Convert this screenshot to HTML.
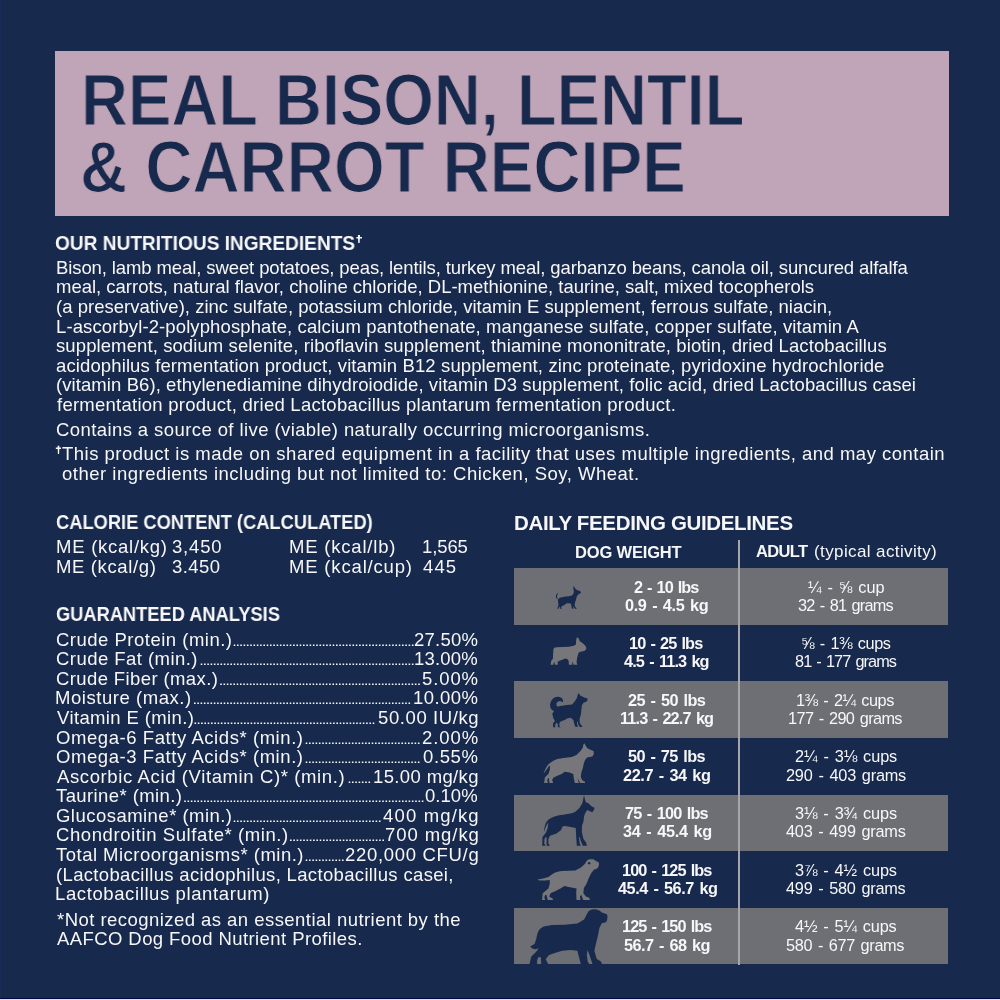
<!DOCTYPE html>
<html><head><meta charset="utf-8"><style>
html,body{margin:0;padding:0;}
body{width:1000px;height:1000px;background:#17294c;position:relative;overflow:hidden;font-family:"Liberation Sans",sans-serif;}
.t{position:absolute;white-space:nowrap;transform-origin:0 0;will-change:transform;}
.box{position:absolute;left:55px;top:51px;width:894px;height:164.5px;background:#c0a4b7;}
.row{position:absolute;left:514px;width:434px;height:56.5px;background:#6e6f74;}
.div{position:absolute;left:738px;top:539.5px;width:2px;height:425px;background:#a5a5aa;}
.dots{position:absolute;height:1.5px;background-image:linear-gradient(to right,#f7f7f9 1.5px,transparent 1.5px);background-size:3.3px 1.5px;}
svg{position:absolute;}
.bot1{position:absolute;left:0;top:998px;width:1000px;height:1px;background:#020a3c;}
.bot2{position:absolute;left:0;top:999px;width:1000px;height:1px;background:#dfe0e4;}
</style></head><body>
<div class="box"></div>
<div class="row" style="top:568.00px"></div><div class="row" style="top:681.33px"></div><div class="row" style="top:794.66px"></div><div class="row" style="top:907.99px"></div>
<div class="div"></div>
<svg style="left:552px;top:583px" width="30" height="30" viewBox="0 0 1000 1000"><path fill="#17294c" d="M195 335 C140 370 120 430 135 485 C150 520 175 540 205 550 L240 500 C300 470 420 450 560 440 L660 420 L700 380 L730 300 L715 200 L708 100 L760 160 L800 220 L850 240 L900 258 C940 270 965 290 965 315 C960 340 930 355 900 362 L860 400 L820 470 L800 560 L770 640 L752 720 L770 790 L810 830 L830 858 L770 862 L738 820 L720 765 L712 800 L722 840 L705 862 L660 852 L648 780 L638 700 L600 682 C560 672 500 672 460 690 L420 730 L360 760 L312 782 L302 830 L330 862 L270 862 L258 800 L240 792 L225 830 L222 862 L175 862 L190 810 L215 760 L210 680 L200 600 L198 540 C178 515 165 480 168 430 C170 400 180 380 205 362 Z"/></svg>
<svg style="left:547px;top:634px" width="42" height="34" viewBox="0 0 1000 810"><path fill="#76767b" d="M150 380 C150 345 180 318 225 315 L520 305 L640 280 L690 250 L692 180 L702 100 C708 78 735 72 752 100 L785 180 L830 200 L870 240 L900 268 C925 290 938 320 935 350 C930 380 905 398 862 410 L790 420 L750 450 L730 520 L712 600 L705 680 L725 735 L630 735 L615 655 L602 700 L600 735 L520 735 L515 640 L490 600 L440 582 L380 610 L300 640 L252 662 L258 735 L190 735 L175 672 L160 682 L152 735 L85 735 L100 640 L140 590 L145 500 Z"/></svg>
<svg style="left:547px;top:690px" width="44" height="40" viewBox="0 0 1000 909"><path fill="#17294c" d="M70 350 C70 280 110 200 180 165 C230 145 300 150 340 190 C362 215 368 250 365 280 L330 262 C300 250 250 250 225 285 C205 315 210 350 240 380 L300 362 L450 342 L570 330 L620 270 L680 180 L700 100 L720 70 L750 120 L800 150 L860 175 L912 190 C925 205 925 230 915 245 L880 270 L830 292 L792 350 L782 450 L770 560 L742 650 L742 750 L780 800 L812 832 L750 848 L710 782 L690 700 L680 760 L692 802 L712 832 L650 842 L620 772 L600 682 L540 632 L470 642 L400 682 L300 722 L280 762 L285 830 L312 847 L250 847 L240 762 L220 742 L192 772 L182 830 L202 847 L140 847 L135 762 L180 702 L140 632 L120 540 L160 482 L120 452 C90 430 72 395 70 350 Z"/></svg>
<svg style="left:542px;top:741px" width="53" height="44" viewBox="0 0 1000 830"><path fill="#76767b" d="M28 612 C60 540 100 440 160 410 L200 380 C250 345 330 328 400 320 L560 300 L650 262 L730 182 L770 122 L782 62 L800 40 L830 100 L852 130 L900 160 L952 180 L975 192 L977 250 L950 290 L900 302 L850 312 L810 362 L790 422 L770 512 L742 592 L732 680 L760 740 L810 770 L812 792 L720 792 L680 722 L670 682 L680 752 L700 792 L620 792 L600 702 L590 622 L520 592 L430 582 L370 622 L280 662 L212 692 L192 742 L212 792 L140 792 L130 702 L110 702 L100 752 L112 792 L40 792 L55 682 L120 622 L148 542 L152 460 C115 480 80 560 28 612 Z"/></svg>
<svg style="left:540px;top:795px" width="55" height="53" viewBox="0 0 1000 964"><path fill="#17294c" d="M68 682 C80 600 90 500 150 450 L200 420 C270 385 350 365 420 360 L580 330 L650 302 L720 232 L770 152 L782 100 L800 0 L820 90 L832 130 L880 150 L920 190 L960 218 L992 230 L982 270 L952 312 L900 292 L860 272 L820 332 L800 402 L790 482 L762 562 L762 680 L790 800 L840 870 L852 922 L780 922 L740 832 L722 752 L712 792 L722 882 L742 922 L670 922 L660 802 L650 602 L560 582 L450 562 L410 572 L380 642 L300 702 L182 742 L152 802 L152 882 L182 922 L120 922 L120 772 L100 762 L82 802 L77 882 L100 922 L40 922 L45 762 L110 682 L140 602 L152 500 C115 540 95 610 68 682 Z"/></svg>
<svg style="left:535px;top:857px" width="67" height="45" viewBox="0 0 1000 672"><path fill="#76767b" d="M38 335 L120 320 L200 300 L240 270 C280 235 340 215 400 210 L600 200 L680 160 L740 110 L780 50 C790 35 820 30 870 35 L910 60 L950 80 C960 100 958 140 930 170 L880 190 L840 240 L800 320 L770 400 L730 462 L722 540 L760 590 L810 610 L820 642 L720 642 L690 562 L670 592 L680 642 L620 642 L615 532 L620 472 L520 452 L440 432 L380 472 L300 512 L232 542 L212 590 L262 620 L272 642 L190 642 L170 562 L150 572 L140 602 L150 642 L105 642 L115 542 L200 472 L220 400 L220 342 L150 350 C100 356 60 352 38 335 Z"/><circle cx="808" cy="92" r="18" fill="#17294c"/></svg>
<svg style="left:527px;top:907px" width="84" height="58" viewBox="0 0 1000 690"><path fill="#17294c" d="M38 470 L90 440 L110 380 L122 320 C135 280 160 245 200 232 L300 215 L450 210 L600 195 L680 150 L720 70 C735 45 760 30 800 28 C840 28 870 45 885 62 L950 85 C962 100 962 150 940 180 L890 192 L862 250 L842 350 L822 430 L802 520 L830 620 L880 650 L892 678 L780 678 L740 562 L722 512 L712 562 L722 650 L742 678 L640 678 L610 562 L600 522 L520 512 L420 522 L350 542 L262 572 L222 622 L252 678 L170 678 L165 602 L140 592 L120 632 L120 678 L30 678 L50 592 L110 532 L140 492 L100 502 C75 500 50 490 38 470 Z"/></svg>

<div class="t" style="left:81.14px;top:60px;font-size:72px;line-height:80px;font-weight:700;color:#17294c;transform:scaleX(0.9030);-webkit-text-stroke:1.2px #c0a4b7;">REAL BISON, LENTIL</div>
<div class="t" style="left:79.76px;top:127px;font-size:72px;line-height:80px;font-weight:700;color:#17294c;transform:scaleX(0.9068);-webkit-text-stroke:1.2px #c0a4b7;">&amp; CARROT RECIPE</div>
<div class="t" style="left:55.40px;top:232px;font-size:20px;line-height:22px;font-weight:700;color:#f7f7f9;transform:scaleX(0.9544);">OUR NUTRITIOUS INGREDIENTS</div>
<div class="t" style="left:55.55px;top:257px;font-size:18.5px;line-height:21px;font-weight:400;color:#f7f7f9;letter-spacing:-0.1044px">Bison, lamb meal, sweet potatoes, peas, lentils, turkey meal, garbanzo beans, canola oil, suncured alfalfa</div>
<div class="t" style="left:56.14px;top:276px;font-size:18.5px;line-height:21px;font-weight:400;color:#f7f7f9;letter-spacing:-0.0088px">meal, carrots, natural flavor, choline chloride, DL-methionine, taurine, salt, mixed tocopherols</div>
<div class="t" style="left:55.63px;top:296px;font-size:18.5px;line-height:21px;font-weight:400;color:#f7f7f9;letter-spacing:0.0194px">(a preservative), zinc sulfate, potassium chloride, vitamin E supplement, ferrous sulfate, niacin,</div>
<div class="t" style="left:55.55px;top:316px;font-size:18.5px;line-height:21px;font-weight:400;color:#f7f7f9;letter-spacing:0.1070px">L-ascorbyl-2-polyphosphate, calcium pantothenate, manganese sulfate, copper sulfate, vitamin A</div>
<div class="t" style="left:55.91px;top:335px;font-size:18.5px;line-height:21px;font-weight:400;color:#f7f7f9;letter-spacing:0.1005px">supplement, sodium selenite, riboflavin supplement, thiamine mononitrate, biotin, dried Lactobacillus</div>
<div class="t" style="left:55.62px;top:355px;font-size:18.5px;line-height:21px;font-weight:400;color:#f7f7f9;letter-spacing:0.1206px">acidophilus fermentation product, vitamin B12 supplement, zinc proteinate, pyridoxine hydrochloride</div>
<div class="t" style="left:55.63px;top:374px;font-size:18.5px;line-height:21px;font-weight:400;color:#f7f7f9;letter-spacing:0.0822px">(vitamin B6), ethylenediamine dihydroiodide, vitamin D3 supplement, folic acid, dried Lactobacillus casei</div>
<div class="t" style="left:56.50px;top:394px;font-size:18.5px;line-height:21px;font-weight:400;color:#f7f7f9;letter-spacing:0.2544px">fermentation product, dried Lactobacillus plantarum fermentation product.</div>
<div class="t" style="left:55.63px;top:419px;font-size:18.5px;line-height:21px;font-weight:400;color:#f7f7f9;letter-spacing:0.4106px">Contains a source of live (viable) naturally occurring microorganisms.</div>
<div class="t" style="left:61.91px;top:443px;font-size:18.5px;line-height:21px;font-weight:400;color:#f7f7f9;letter-spacing:0.4918px">This product is made on shared equipment in a facility that uses multiple ingredients, and may contain</div>
<div class="t" style="left:62.42px;top:463px;font-size:18.5px;line-height:21px;font-weight:400;color:#f7f7f9;letter-spacing:0.4986px">other ingredients including but not limited to: Chicken, Soy, Wheat.</div>
<div class="t" style="left:55.93px;top:511px;font-size:20px;line-height:22px;font-weight:700;color:#f7f7f9;transform:scaleX(0.9147);">CALORIE CONTENT (CALCULATED)</div>
<div class="t" style="left:55.55px;top:536px;font-size:18.5px;line-height:21px;font-weight:400;color:#f7f7f9;letter-spacing:0.7467px">ME (kcal/kg)</div>
<div class="t" style="left:172.42px;top:536px;font-size:18.5px;line-height:21px;font-weight:400;color:#f7f7f9;letter-spacing:0.8359px">3,450</div>
<div class="t" style="left:55.55px;top:556px;font-size:18.5px;line-height:21px;font-weight:400;color:#f7f7f9;letter-spacing:0.6264px">ME (kcal/g)</div>
<div class="t" style="left:172.42px;top:556px;font-size:18.5px;line-height:21px;font-weight:400;color:#f7f7f9;letter-spacing:0.4359px">3.450</div>
<div class="t" style="left:288.95px;top:536px;font-size:18.5px;line-height:21px;font-weight:400;color:#f7f7f9;letter-spacing:0.7958px">ME (kcal/lb)</div>
<div class="t" style="left:421.84px;top:536px;font-size:18.5px;line-height:21px;font-weight:400;color:#f7f7f9;letter-spacing:-0.0973px">1,565</div>
<div class="t" style="left:288.95px;top:556px;font-size:18.5px;line-height:21px;font-weight:400;color:#f7f7f9;letter-spacing:0.8271px">ME (kcal/cup)</div>
<div class="t" style="left:422.71px;top:556px;font-size:18.5px;line-height:21px;font-weight:400;color:#f7f7f9;letter-spacing:1.0862px">445</div>
<div class="t" style="left:55.93px;top:603px;font-size:20px;line-height:22px;font-weight:700;color:#f7f7f9;transform:scaleX(0.9130);">GUARANTEED ANALYSIS</div>
<div class="t" style="left:55.63px;top:629px;font-size:18.5px;line-height:21px;font-weight:400;color:#f7f7f9;letter-spacing:0.4984px">Crude Protein (min.)</div>
<div class="t" style="left:414.03px;top:629px;font-size:18.5px;line-height:21px;font-weight:400;color:#f7f7f9;letter-spacing:0.2547px">27.50%</div>
<div class="t" style="left:55.63px;top:648px;font-size:18.5px;line-height:21px;font-weight:400;color:#f7f7f9;letter-spacing:0.4572px">Crude Fat (min.)</div>
<div class="t" style="left:414.44px;top:648px;font-size:18.5px;line-height:21px;font-weight:400;color:#f7f7f9;letter-spacing:0.1725px">13.00%</div>
<div class="t" style="left:55.63px;top:668px;font-size:18.5px;line-height:21px;font-weight:400;color:#f7f7f9;letter-spacing:0.3881px">Crude Fiber (max.)</div>
<div class="t" style="left:422.02px;top:668px;font-size:18.5px;line-height:21px;font-weight:400;color:#f7f7f9;letter-spacing:0.8933px">5.00%</div>
<div class="t" style="left:55.05px;top:687px;font-size:18.5px;line-height:21px;font-weight:400;color:#f7f7f9;letter-spacing:0.5439px">Moisture (max.)</div>
<div class="t" style="left:413.04px;top:687px;font-size:18.5px;line-height:21px;font-weight:400;color:#f7f7f9;letter-spacing:0.4525px">10.00%</div>
<div class="t" style="left:56.50px;top:707px;font-size:18.5px;line-height:21px;font-weight:400;color:#f7f7f9;letter-spacing:0.3809px">Vitamin E (min.)</div>
<div class="t" style="left:377.92px;top:707px;font-size:18.5px;line-height:21px;font-weight:400;color:#f7f7f9;letter-spacing:0.6003px">50.00 IU/kg</div>
<div class="t" style="left:55.63px;top:727px;font-size:18.5px;line-height:21px;font-weight:400;color:#f7f7f9;letter-spacing:0.5639px">Omega-6 Fatty Acids* (min.)</div>
<div class="t" style="left:421.73px;top:727px;font-size:18.5px;line-height:21px;font-weight:400;color:#f7f7f9;letter-spacing:0.9656px">2.00%</div>
<div class="t" style="left:55.63px;top:746px;font-size:18.5px;line-height:21px;font-weight:400;color:#f7f7f9;letter-spacing:0.5639px">Omega-3 Fatty Acids* (min.)</div>
<div class="t" style="left:423.12px;top:746px;font-size:18.5px;line-height:21px;font-weight:400;color:#f7f7f9;letter-spacing:0.6183px">0.55%</div>
<div class="t" style="left:56.50px;top:766px;font-size:18.5px;line-height:21px;font-weight:400;color:#f7f7f9;letter-spacing:0.6146px">Ascorbic Acid (Vitamin C)* (min.)</div>
<div class="t" style="left:373.04px;top:766px;font-size:18.5px;line-height:21px;font-weight:400;color:#f7f7f9;letter-spacing:0.3682px">15.00 mg/kg</div>
<div class="t" style="left:56.21px;top:785px;font-size:18.5px;line-height:21px;font-weight:400;color:#f7f7f9;letter-spacing:0.4043px">Taurine* (min.)</div>
<div class="t" style="left:425.42px;top:785px;font-size:18.5px;line-height:21px;font-weight:400;color:#f7f7f9;letter-spacing:0.0433px">0.10%</div>
<div class="t" style="left:55.63px;top:805px;font-size:18.5px;line-height:21px;font-weight:400;color:#f7f7f9;letter-spacing:0.4694px">Glucosamine* (min.)</div>
<div class="t" style="left:382.91px;top:805px;font-size:18.5px;line-height:21px;font-weight:400;color:#f7f7f9;letter-spacing:1.1554px">400 mg/kg</div>
<div class="t" style="left:55.63px;top:824px;font-size:18.5px;line-height:21px;font-weight:400;color:#f7f7f9;letter-spacing:0.5871px">Chondroitin Sulfate* (min.)</div>
<div class="t" style="left:384.63px;top:824px;font-size:18.5px;line-height:21px;font-weight:400;color:#f7f7f9;letter-spacing:0.9402px">700 mg/kg</div>
<div class="t" style="left:56.21px;top:844px;font-size:18.5px;line-height:21px;font-weight:400;color:#f7f7f9;letter-spacing:0.4838px">Total Microorganisms* (min.)</div>
<div class="t" style="left:344.83px;top:844px;font-size:18.5px;line-height:21px;font-weight:400;color:#f7f7f9;letter-spacing:0.6870px">220,000 CFU/g</div>
<div class="t" style="left:55.63px;top:864px;font-size:18.5px;line-height:21px;font-weight:400;color:#f7f7f9;letter-spacing:0.3390px">(Lactobacillus acidophilus, Lactobacillus casei,</div>
<div class="t" style="left:55.05px;top:883px;font-size:18.5px;line-height:21px;font-weight:400;color:#f7f7f9;letter-spacing:0.6080px">Lactobacillus plantarum)</div>
<div class="t" style="left:56.71px;top:909px;font-size:18.5px;line-height:21px;font-weight:400;color:#f7f7f9;letter-spacing:0.4559px">*Not recognized as an essential nutrient by the</div>
<div class="t" style="left:57.00px;top:928px;font-size:18.5px;line-height:21px;font-weight:400;color:#f7f7f9;letter-spacing:0.4148px">AAFCO Dog Food Nutrient Profiles.</div>
<div class="t" style="left:514.12px;top:511px;font-size:20.5px;line-height:23px;font-weight:700;color:#f7f7f9;letter-spacing:-0.3478px">DAILY FEEDING GUIDELINES</div>
<div class="t" style="left:574.97px;top:543px;font-size:16.5px;line-height:18px;font-weight:700;color:#f7f7f9;letter-spacing:-0.1672px">DOG WEIGHT</div>
<div class="t" style="left:756.34px;top:542px;font-size:16.5px;line-height:18px;font-weight:700;color:#f7f7f9;letter-spacing:-0.6246px">ADULT</div>
<div class="t" style="left:814.20px;top:542px;font-size:17px;line-height:19px;font-weight:400;color:#f7f7f9;letter-spacing:0.3877px">(typical activity)</div>
<div class="t" style="left:634.09px;top:578px;font-size:16.3px;line-height:18px;font-weight:700;color:#f7f7f9;letter-spacing:-0.9875px;word-spacing:1.5px">2 - 10 lbs</div>
<div class="t" style="left:625.09px;top:596px;font-size:16.3px;line-height:18px;font-weight:700;color:#f7f7f9;letter-spacing:-0.3727px;word-spacing:1.5px">0.9 - 4.5 kg</div>
<div class="t" style="left:807.95px;top:578px;font-size:16.3px;line-height:18px;font-weight:400;color:#f7f7f9;letter-spacing:-0.0581px;word-spacing:1.5px">¼ - ⅝ cup</div>
<div class="t" style="left:798.09px;top:596px;font-size:16.3px;line-height:18px;font-weight:400;color:#f7f7f9;letter-spacing:-0.7699px;word-spacing:1.5px">32 - 81 grams</div>
<div class="t" style="left:629.38px;top:634px;font-size:16.3px;line-height:18px;font-weight:700;color:#f7f7f9;letter-spacing:-0.9043px;word-spacing:1.5px">10 - 25 lbs</div>
<div class="t" style="left:624.40px;top:652px;font-size:16.3px;line-height:18px;font-weight:700;color:#f7f7f9;letter-spacing:-0.8645px;word-spacing:1.5px">4.5 - 11.3 kg</div>
<div class="t" style="left:800.98px;top:634px;font-size:16.3px;line-height:18px;font-weight:400;color:#f7f7f9;letter-spacing:-0.4166px;word-spacing:1.5px">⅝ - 1⅜ cups</div>
<div class="t" style="left:794.89px;top:652px;font-size:16.3px;line-height:18px;font-weight:400;color:#f7f7f9;letter-spacing:-0.9234px;word-spacing:1.5px">81 - 177 grams</div>
<div class="t" style="left:628.09px;top:691px;font-size:16.3px;line-height:18px;font-weight:700;color:#f7f7f9;letter-spacing:-0.5353px;word-spacing:1.5px">25 - 50 lbs</div>
<div class="t" style="left:620.38px;top:709px;font-size:16.3px;line-height:18px;font-weight:700;color:#f7f7f9;letter-spacing:-0.8400px;word-spacing:1.5px">11.3 - 22.7 kg</div>
<div class="t" style="left:796.48px;top:691px;font-size:16.3px;line-height:18px;font-weight:400;color:#f7f7f9;letter-spacing:-0.4392px;word-spacing:1.5px">1⅜ - 2¼ cups</div>
<div class="t" style="left:788.38px;top:709px;font-size:16.3px;line-height:18px;font-weight:400;color:#f7f7f9;letter-spacing:-0.6114px;word-spacing:1.5px">177 - 290 grams</div>
<div class="t" style="left:628.35px;top:747px;font-size:16.3px;line-height:18px;font-weight:700;color:#f7f7f9;letter-spacing:-0.5608px;word-spacing:1.5px">50 - 75 lbs</div>
<div class="t" style="left:622.99px;top:766px;font-size:16.3px;line-height:18px;font-weight:700;color:#f7f7f9;letter-spacing:-0.3942px;word-spacing:1.5px">22.7 - 34 kg</div>
<div class="t" style="left:794.64px;top:747px;font-size:16.3px;line-height:18px;font-weight:400;color:#f7f7f9;letter-spacing:-0.0805px;word-spacing:1.5px">2¼ - 3⅛ cups</div>
<div class="t" style="left:785.64px;top:766px;font-size:16.3px;line-height:18px;font-weight:400;color:#f7f7f9;letter-spacing:-0.2010px;word-spacing:1.5px">290 - 403 grams</div>
<div class="t" style="left:625.09px;top:804px;font-size:16.3px;line-height:18px;font-weight:700;color:#f7f7f9;letter-spacing:-0.7834px;word-spacing:1.5px">75 - 100 lbs</div>
<div class="t" style="left:623.25px;top:822px;font-size:16.3px;line-height:18px;font-weight:700;color:#f7f7f9;letter-spacing:-0.2809px;word-spacing:1.5px">34 - 45.4 kg</div>
<div class="t" style="left:795.09px;top:804px;font-size:16.3px;line-height:18px;font-weight:400;color:#f7f7f9;letter-spacing:-0.0946px;word-spacing:1.5px">3⅛ - 3¾ cups</div>
<div class="t" style="left:786.35px;top:822px;font-size:16.3px;line-height:18px;font-weight:400;color:#f7f7f9;letter-spacing:-0.2303px;word-spacing:1.5px">403 - 499 grams</div>
<div class="t" style="left:621.58px;top:861px;font-size:16.3px;line-height:18px;font-weight:700;color:#f7f7f9;letter-spacing:-0.9144px;word-spacing:1.5px">100 - 125 lbs</div>
<div class="t" style="left:617.50px;top:879px;font-size:16.3px;line-height:18px;font-weight:700;color:#f7f7f9;letter-spacing:-0.4568px;word-spacing:1.5px">45.4 - 56.7 kg</div>
<div class="t" style="left:794.89px;top:861px;font-size:16.3px;line-height:18px;font-weight:400;color:#f7f7f9;letter-spacing:-0.1037px;word-spacing:1.5px">3⅞ - 4½ cups</div>
<div class="t" style="left:786.15px;top:879px;font-size:16.3px;line-height:18px;font-weight:400;color:#f7f7f9;letter-spacing:-0.2374px;word-spacing:1.5px">499 - 580 grams</div>
<div class="t" style="left:621.58px;top:917px;font-size:16.3px;line-height:18px;font-weight:700;color:#f7f7f9;letter-spacing:-0.9144px;word-spacing:1.5px">125 - 150 lbs</div>
<div class="t" style="left:624.15px;top:936px;font-size:16.3px;line-height:18px;font-weight:700;color:#f7f7f9;letter-spacing:-0.5355px;word-spacing:1.5px">56.7 - 68 kg</div>
<div class="t" style="left:795.15px;top:917px;font-size:16.3px;line-height:18px;font-weight:400;color:#f7f7f9;letter-spacing:-0.1268px;word-spacing:1.5px">4½ - 5¼ cups</div>
<div class="t" style="left:786.49px;top:936px;font-size:16.3px;line-height:18px;font-weight:400;color:#f7f7f9;letter-spacing:-0.3264px;word-spacing:1.5px">580 - 677 grams</div>
<svg style="left:0;top:0" width="1000" height="1000" viewBox="0 0 1000 1000"><path fill="#f7f7f9" d="M233.70 644.4h1.6v1.6h-1.6zM237.00 644.4h1.6v1.6h-1.6zM240.30 644.4h1.6v1.6h-1.6zM243.60 644.4h1.6v1.6h-1.6zM246.90 644.4h1.6v1.6h-1.6zM250.20 644.4h1.6v1.6h-1.6zM253.50 644.4h1.6v1.6h-1.6zM256.80 644.4h1.6v1.6h-1.6zM260.10 644.4h1.6v1.6h-1.6zM263.40 644.4h1.6v1.6h-1.6zM266.70 644.4h1.6v1.6h-1.6zM270.00 644.4h1.6v1.6h-1.6zM273.30 644.4h1.6v1.6h-1.6zM276.60 644.4h1.6v1.6h-1.6zM279.90 644.4h1.6v1.6h-1.6zM283.20 644.4h1.6v1.6h-1.6zM286.50 644.4h1.6v1.6h-1.6zM289.80 644.4h1.6v1.6h-1.6zM293.10 644.4h1.6v1.6h-1.6zM296.40 644.4h1.6v1.6h-1.6zM299.70 644.4h1.6v1.6h-1.6zM303.00 644.4h1.6v1.6h-1.6zM306.30 644.4h1.6v1.6h-1.6zM309.60 644.4h1.6v1.6h-1.6zM312.90 644.4h1.6v1.6h-1.6zM316.20 644.4h1.6v1.6h-1.6zM319.50 644.4h1.6v1.6h-1.6zM322.80 644.4h1.6v1.6h-1.6zM326.10 644.4h1.6v1.6h-1.6zM329.40 644.4h1.6v1.6h-1.6zM332.70 644.4h1.6v1.6h-1.6zM336.00 644.4h1.6v1.6h-1.6zM339.30 644.4h1.6v1.6h-1.6zM342.60 644.4h1.6v1.6h-1.6zM345.90 644.4h1.6v1.6h-1.6zM349.20 644.4h1.6v1.6h-1.6zM352.50 644.4h1.6v1.6h-1.6zM355.80 644.4h1.6v1.6h-1.6zM359.10 644.4h1.6v1.6h-1.6zM362.40 644.4h1.6v1.6h-1.6zM365.70 644.4h1.6v1.6h-1.6zM369.00 644.4h1.6v1.6h-1.6zM372.30 644.4h1.6v1.6h-1.6zM375.60 644.4h1.6v1.6h-1.6zM378.90 644.4h1.6v1.6h-1.6zM382.20 644.4h1.6v1.6h-1.6zM385.50 644.4h1.6v1.6h-1.6zM388.80 644.4h1.6v1.6h-1.6zM392.10 644.4h1.6v1.6h-1.6zM395.40 644.4h1.6v1.6h-1.6zM398.70 644.4h1.6v1.6h-1.6zM402.00 644.4h1.6v1.6h-1.6zM405.30 644.4h1.6v1.6h-1.6zM408.60 644.4h1.6v1.6h-1.6zM411.90 644.4h1.6v1.6h-1.6zM200.70 663.4h1.6v1.6h-1.6zM204.00 663.4h1.6v1.6h-1.6zM207.30 663.4h1.6v1.6h-1.6zM210.60 663.4h1.6v1.6h-1.6zM213.90 663.4h1.6v1.6h-1.6zM217.20 663.4h1.6v1.6h-1.6zM220.50 663.4h1.6v1.6h-1.6zM223.80 663.4h1.6v1.6h-1.6zM227.10 663.4h1.6v1.6h-1.6zM230.40 663.4h1.6v1.6h-1.6zM233.70 663.4h1.6v1.6h-1.6zM237.00 663.4h1.6v1.6h-1.6zM240.30 663.4h1.6v1.6h-1.6zM243.60 663.4h1.6v1.6h-1.6zM246.90 663.4h1.6v1.6h-1.6zM250.20 663.4h1.6v1.6h-1.6zM253.50 663.4h1.6v1.6h-1.6zM256.80 663.4h1.6v1.6h-1.6zM260.10 663.4h1.6v1.6h-1.6zM263.40 663.4h1.6v1.6h-1.6zM266.70 663.4h1.6v1.6h-1.6zM270.00 663.4h1.6v1.6h-1.6zM273.30 663.4h1.6v1.6h-1.6zM276.60 663.4h1.6v1.6h-1.6zM279.90 663.4h1.6v1.6h-1.6zM283.20 663.4h1.6v1.6h-1.6zM286.50 663.4h1.6v1.6h-1.6zM289.80 663.4h1.6v1.6h-1.6zM293.10 663.4h1.6v1.6h-1.6zM296.40 663.4h1.6v1.6h-1.6zM299.70 663.4h1.6v1.6h-1.6zM303.00 663.4h1.6v1.6h-1.6zM306.30 663.4h1.6v1.6h-1.6zM309.60 663.4h1.6v1.6h-1.6zM312.90 663.4h1.6v1.6h-1.6zM316.20 663.4h1.6v1.6h-1.6zM319.50 663.4h1.6v1.6h-1.6zM322.80 663.4h1.6v1.6h-1.6zM326.10 663.4h1.6v1.6h-1.6zM329.40 663.4h1.6v1.6h-1.6zM332.70 663.4h1.6v1.6h-1.6zM336.00 663.4h1.6v1.6h-1.6zM339.30 663.4h1.6v1.6h-1.6zM342.60 663.4h1.6v1.6h-1.6zM345.90 663.4h1.6v1.6h-1.6zM349.20 663.4h1.6v1.6h-1.6zM352.50 663.4h1.6v1.6h-1.6zM355.80 663.4h1.6v1.6h-1.6zM359.10 663.4h1.6v1.6h-1.6zM362.40 663.4h1.6v1.6h-1.6zM365.70 663.4h1.6v1.6h-1.6zM369.00 663.4h1.6v1.6h-1.6zM372.30 663.4h1.6v1.6h-1.6zM375.60 663.4h1.6v1.6h-1.6zM378.90 663.4h1.6v1.6h-1.6zM382.20 663.4h1.6v1.6h-1.6zM385.50 663.4h1.6v1.6h-1.6zM388.80 663.4h1.6v1.6h-1.6zM392.10 663.4h1.6v1.6h-1.6zM395.40 663.4h1.6v1.6h-1.6zM398.70 663.4h1.6v1.6h-1.6zM402.00 663.4h1.6v1.6h-1.6zM405.30 663.4h1.6v1.6h-1.6zM408.60 663.4h1.6v1.6h-1.6zM411.90 663.4h1.6v1.6h-1.6zM220.20 683.4h1.6v1.6h-1.6zM223.50 683.4h1.6v1.6h-1.6zM226.80 683.4h1.6v1.6h-1.6zM230.10 683.4h1.6v1.6h-1.6zM233.40 683.4h1.6v1.6h-1.6zM236.70 683.4h1.6v1.6h-1.6zM240.00 683.4h1.6v1.6h-1.6zM243.30 683.4h1.6v1.6h-1.6zM246.60 683.4h1.6v1.6h-1.6zM249.90 683.4h1.6v1.6h-1.6zM253.20 683.4h1.6v1.6h-1.6zM256.50 683.4h1.6v1.6h-1.6zM259.80 683.4h1.6v1.6h-1.6zM263.10 683.4h1.6v1.6h-1.6zM266.40 683.4h1.6v1.6h-1.6zM269.70 683.4h1.6v1.6h-1.6zM273.00 683.4h1.6v1.6h-1.6zM276.30 683.4h1.6v1.6h-1.6zM279.60 683.4h1.6v1.6h-1.6zM282.90 683.4h1.6v1.6h-1.6zM286.20 683.4h1.6v1.6h-1.6zM289.50 683.4h1.6v1.6h-1.6zM292.80 683.4h1.6v1.6h-1.6zM296.10 683.4h1.6v1.6h-1.6zM299.40 683.4h1.6v1.6h-1.6zM302.70 683.4h1.6v1.6h-1.6zM306.00 683.4h1.6v1.6h-1.6zM309.30 683.4h1.6v1.6h-1.6zM312.60 683.4h1.6v1.6h-1.6zM315.90 683.4h1.6v1.6h-1.6zM319.20 683.4h1.6v1.6h-1.6zM322.50 683.4h1.6v1.6h-1.6zM325.80 683.4h1.6v1.6h-1.6zM329.10 683.4h1.6v1.6h-1.6zM332.40 683.4h1.6v1.6h-1.6zM335.70 683.4h1.6v1.6h-1.6zM339.00 683.4h1.6v1.6h-1.6zM342.30 683.4h1.6v1.6h-1.6zM345.60 683.4h1.6v1.6h-1.6zM348.90 683.4h1.6v1.6h-1.6zM352.20 683.4h1.6v1.6h-1.6zM355.50 683.4h1.6v1.6h-1.6zM358.80 683.4h1.6v1.6h-1.6zM362.10 683.4h1.6v1.6h-1.6zM365.40 683.4h1.6v1.6h-1.6zM368.70 683.4h1.6v1.6h-1.6zM372.00 683.4h1.6v1.6h-1.6zM375.30 683.4h1.6v1.6h-1.6zM378.60 683.4h1.6v1.6h-1.6zM381.90 683.4h1.6v1.6h-1.6zM385.20 683.4h1.6v1.6h-1.6zM388.50 683.4h1.6v1.6h-1.6zM391.80 683.4h1.6v1.6h-1.6zM395.10 683.4h1.6v1.6h-1.6zM398.40 683.4h1.6v1.6h-1.6zM401.70 683.4h1.6v1.6h-1.6zM405.00 683.4h1.6v1.6h-1.6zM408.30 683.4h1.6v1.6h-1.6zM411.60 683.4h1.6v1.6h-1.6zM414.90 683.4h1.6v1.6h-1.6zM418.20 683.4h1.6v1.6h-1.6zM194.00 702.4h1.6v1.6h-1.6zM197.30 702.4h1.6v1.6h-1.6zM200.60 702.4h1.6v1.6h-1.6zM203.90 702.4h1.6v1.6h-1.6zM207.20 702.4h1.6v1.6h-1.6zM210.50 702.4h1.6v1.6h-1.6zM213.80 702.4h1.6v1.6h-1.6zM217.10 702.4h1.6v1.6h-1.6zM220.40 702.4h1.6v1.6h-1.6zM223.70 702.4h1.6v1.6h-1.6zM227.00 702.4h1.6v1.6h-1.6zM230.30 702.4h1.6v1.6h-1.6zM233.60 702.4h1.6v1.6h-1.6zM236.90 702.4h1.6v1.6h-1.6zM240.20 702.4h1.6v1.6h-1.6zM243.50 702.4h1.6v1.6h-1.6zM246.80 702.4h1.6v1.6h-1.6zM250.10 702.4h1.6v1.6h-1.6zM253.40 702.4h1.6v1.6h-1.6zM256.70 702.4h1.6v1.6h-1.6zM260.00 702.4h1.6v1.6h-1.6zM263.30 702.4h1.6v1.6h-1.6zM266.60 702.4h1.6v1.6h-1.6zM269.90 702.4h1.6v1.6h-1.6zM273.20 702.4h1.6v1.6h-1.6zM276.50 702.4h1.6v1.6h-1.6zM279.80 702.4h1.6v1.6h-1.6zM283.10 702.4h1.6v1.6h-1.6zM286.40 702.4h1.6v1.6h-1.6zM289.70 702.4h1.6v1.6h-1.6zM293.00 702.4h1.6v1.6h-1.6zM296.30 702.4h1.6v1.6h-1.6zM299.60 702.4h1.6v1.6h-1.6zM302.90 702.4h1.6v1.6h-1.6zM306.20 702.4h1.6v1.6h-1.6zM309.50 702.4h1.6v1.6h-1.6zM312.80 702.4h1.6v1.6h-1.6zM316.10 702.4h1.6v1.6h-1.6zM319.40 702.4h1.6v1.6h-1.6zM322.70 702.4h1.6v1.6h-1.6zM326.00 702.4h1.6v1.6h-1.6zM329.30 702.4h1.6v1.6h-1.6zM332.60 702.4h1.6v1.6h-1.6zM335.90 702.4h1.6v1.6h-1.6zM339.20 702.4h1.6v1.6h-1.6zM342.50 702.4h1.6v1.6h-1.6zM345.80 702.4h1.6v1.6h-1.6zM349.10 702.4h1.6v1.6h-1.6zM352.40 702.4h1.6v1.6h-1.6zM355.70 702.4h1.6v1.6h-1.6zM359.00 702.4h1.6v1.6h-1.6zM362.30 702.4h1.6v1.6h-1.6zM365.60 702.4h1.6v1.6h-1.6zM368.90 702.4h1.6v1.6h-1.6zM372.20 702.4h1.6v1.6h-1.6zM375.50 702.4h1.6v1.6h-1.6zM378.80 702.4h1.6v1.6h-1.6zM382.10 702.4h1.6v1.6h-1.6zM385.40 702.4h1.6v1.6h-1.6zM388.70 702.4h1.6v1.6h-1.6zM392.00 702.4h1.6v1.6h-1.6zM395.30 702.4h1.6v1.6h-1.6zM398.60 702.4h1.6v1.6h-1.6zM401.90 702.4h1.6v1.6h-1.6zM405.20 702.4h1.6v1.6h-1.6zM408.50 702.4h1.6v1.6h-1.6zM194.50 722.4h1.6v1.6h-1.6zM197.80 722.4h1.6v1.6h-1.6zM201.10 722.4h1.6v1.6h-1.6zM204.40 722.4h1.6v1.6h-1.6zM207.70 722.4h1.6v1.6h-1.6zM211.00 722.4h1.6v1.6h-1.6zM214.30 722.4h1.6v1.6h-1.6zM217.60 722.4h1.6v1.6h-1.6zM220.90 722.4h1.6v1.6h-1.6zM224.20 722.4h1.6v1.6h-1.6zM227.50 722.4h1.6v1.6h-1.6zM230.80 722.4h1.6v1.6h-1.6zM234.10 722.4h1.6v1.6h-1.6zM237.40 722.4h1.6v1.6h-1.6zM240.70 722.4h1.6v1.6h-1.6zM244.00 722.4h1.6v1.6h-1.6zM247.30 722.4h1.6v1.6h-1.6zM250.60 722.4h1.6v1.6h-1.6zM253.90 722.4h1.6v1.6h-1.6zM257.20 722.4h1.6v1.6h-1.6zM260.50 722.4h1.6v1.6h-1.6zM263.80 722.4h1.6v1.6h-1.6zM267.10 722.4h1.6v1.6h-1.6zM270.40 722.4h1.6v1.6h-1.6zM273.70 722.4h1.6v1.6h-1.6zM277.00 722.4h1.6v1.6h-1.6zM280.30 722.4h1.6v1.6h-1.6zM283.60 722.4h1.6v1.6h-1.6zM286.90 722.4h1.6v1.6h-1.6zM290.20 722.4h1.6v1.6h-1.6zM293.50 722.4h1.6v1.6h-1.6zM296.80 722.4h1.6v1.6h-1.6zM300.10 722.4h1.6v1.6h-1.6zM303.40 722.4h1.6v1.6h-1.6zM306.70 722.4h1.6v1.6h-1.6zM310.00 722.4h1.6v1.6h-1.6zM313.30 722.4h1.6v1.6h-1.6zM316.60 722.4h1.6v1.6h-1.6zM319.90 722.4h1.6v1.6h-1.6zM323.20 722.4h1.6v1.6h-1.6zM326.50 722.4h1.6v1.6h-1.6zM329.80 722.4h1.6v1.6h-1.6zM333.10 722.4h1.6v1.6h-1.6zM336.40 722.4h1.6v1.6h-1.6zM339.70 722.4h1.6v1.6h-1.6zM343.00 722.4h1.6v1.6h-1.6zM346.30 722.4h1.6v1.6h-1.6zM349.60 722.4h1.6v1.6h-1.6zM352.90 722.4h1.6v1.6h-1.6zM356.20 722.4h1.6v1.6h-1.6zM359.50 722.4h1.6v1.6h-1.6zM362.80 722.4h1.6v1.6h-1.6zM366.10 722.4h1.6v1.6h-1.6zM369.40 722.4h1.6v1.6h-1.6zM372.70 722.4h1.6v1.6h-1.6zM305.70 742.4h1.6v1.6h-1.6zM309.00 742.4h1.6v1.6h-1.6zM312.30 742.4h1.6v1.6h-1.6zM315.60 742.4h1.6v1.6h-1.6zM318.90 742.4h1.6v1.6h-1.6zM322.20 742.4h1.6v1.6h-1.6zM325.50 742.4h1.6v1.6h-1.6zM328.80 742.4h1.6v1.6h-1.6zM332.10 742.4h1.6v1.6h-1.6zM335.40 742.4h1.6v1.6h-1.6zM338.70 742.4h1.6v1.6h-1.6zM342.00 742.4h1.6v1.6h-1.6zM345.30 742.4h1.6v1.6h-1.6zM348.60 742.4h1.6v1.6h-1.6zM351.90 742.4h1.6v1.6h-1.6zM355.20 742.4h1.6v1.6h-1.6zM358.50 742.4h1.6v1.6h-1.6zM361.80 742.4h1.6v1.6h-1.6zM365.10 742.4h1.6v1.6h-1.6zM368.40 742.4h1.6v1.6h-1.6zM371.70 742.4h1.6v1.6h-1.6zM375.00 742.4h1.6v1.6h-1.6zM378.30 742.4h1.6v1.6h-1.6zM381.60 742.4h1.6v1.6h-1.6zM384.90 742.4h1.6v1.6h-1.6zM388.20 742.4h1.6v1.6h-1.6zM391.50 742.4h1.6v1.6h-1.6zM394.80 742.4h1.6v1.6h-1.6zM398.10 742.4h1.6v1.6h-1.6zM401.40 742.4h1.6v1.6h-1.6zM404.70 742.4h1.6v1.6h-1.6zM408.00 742.4h1.6v1.6h-1.6zM411.30 742.4h1.6v1.6h-1.6zM414.60 742.4h1.6v1.6h-1.6zM417.90 742.4h1.6v1.6h-1.6zM305.70 761.4h1.6v1.6h-1.6zM309.00 761.4h1.6v1.6h-1.6zM312.30 761.4h1.6v1.6h-1.6zM315.60 761.4h1.6v1.6h-1.6zM318.90 761.4h1.6v1.6h-1.6zM322.20 761.4h1.6v1.6h-1.6zM325.50 761.4h1.6v1.6h-1.6zM328.80 761.4h1.6v1.6h-1.6zM332.10 761.4h1.6v1.6h-1.6zM335.40 761.4h1.6v1.6h-1.6zM338.70 761.4h1.6v1.6h-1.6zM342.00 761.4h1.6v1.6h-1.6zM345.30 761.4h1.6v1.6h-1.6zM348.60 761.4h1.6v1.6h-1.6zM351.90 761.4h1.6v1.6h-1.6zM355.20 761.4h1.6v1.6h-1.6zM358.50 761.4h1.6v1.6h-1.6zM361.80 761.4h1.6v1.6h-1.6zM365.10 761.4h1.6v1.6h-1.6zM368.40 761.4h1.6v1.6h-1.6zM371.70 761.4h1.6v1.6h-1.6zM375.00 761.4h1.6v1.6h-1.6zM378.30 761.4h1.6v1.6h-1.6zM381.60 761.4h1.6v1.6h-1.6zM384.90 761.4h1.6v1.6h-1.6zM388.20 761.4h1.6v1.6h-1.6zM391.50 761.4h1.6v1.6h-1.6zM394.80 761.4h1.6v1.6h-1.6zM398.10 761.4h1.6v1.6h-1.6zM401.40 761.4h1.6v1.6h-1.6zM404.70 761.4h1.6v1.6h-1.6zM408.00 761.4h1.6v1.6h-1.6zM411.30 761.4h1.6v1.6h-1.6zM414.60 761.4h1.6v1.6h-1.6zM417.90 761.4h1.6v1.6h-1.6zM348.70 781.4h1.6v1.6h-1.6zM352.00 781.4h1.6v1.6h-1.6zM355.30 781.4h1.6v1.6h-1.6zM358.60 781.4h1.6v1.6h-1.6zM361.90 781.4h1.6v1.6h-1.6zM365.20 781.4h1.6v1.6h-1.6zM368.50 781.4h1.6v1.6h-1.6zM184.20 800.4h1.6v1.6h-1.6zM187.50 800.4h1.6v1.6h-1.6zM190.80 800.4h1.6v1.6h-1.6zM194.10 800.4h1.6v1.6h-1.6zM197.40 800.4h1.6v1.6h-1.6zM200.70 800.4h1.6v1.6h-1.6zM204.00 800.4h1.6v1.6h-1.6zM207.30 800.4h1.6v1.6h-1.6zM210.60 800.4h1.6v1.6h-1.6zM213.90 800.4h1.6v1.6h-1.6zM217.20 800.4h1.6v1.6h-1.6zM220.50 800.4h1.6v1.6h-1.6zM223.80 800.4h1.6v1.6h-1.6zM227.10 800.4h1.6v1.6h-1.6zM230.40 800.4h1.6v1.6h-1.6zM233.70 800.4h1.6v1.6h-1.6zM237.00 800.4h1.6v1.6h-1.6zM240.30 800.4h1.6v1.6h-1.6zM243.60 800.4h1.6v1.6h-1.6zM246.90 800.4h1.6v1.6h-1.6zM250.20 800.4h1.6v1.6h-1.6zM253.50 800.4h1.6v1.6h-1.6zM256.80 800.4h1.6v1.6h-1.6zM260.10 800.4h1.6v1.6h-1.6zM263.40 800.4h1.6v1.6h-1.6zM266.70 800.4h1.6v1.6h-1.6zM270.00 800.4h1.6v1.6h-1.6zM273.30 800.4h1.6v1.6h-1.6zM276.60 800.4h1.6v1.6h-1.6zM279.90 800.4h1.6v1.6h-1.6zM283.20 800.4h1.6v1.6h-1.6zM286.50 800.4h1.6v1.6h-1.6zM289.80 800.4h1.6v1.6h-1.6zM293.10 800.4h1.6v1.6h-1.6zM296.40 800.4h1.6v1.6h-1.6zM299.70 800.4h1.6v1.6h-1.6zM303.00 800.4h1.6v1.6h-1.6zM306.30 800.4h1.6v1.6h-1.6zM309.60 800.4h1.6v1.6h-1.6zM312.90 800.4h1.6v1.6h-1.6zM316.20 800.4h1.6v1.6h-1.6zM319.50 800.4h1.6v1.6h-1.6zM322.80 800.4h1.6v1.6h-1.6zM326.10 800.4h1.6v1.6h-1.6zM329.40 800.4h1.6v1.6h-1.6zM332.70 800.4h1.6v1.6h-1.6zM336.00 800.4h1.6v1.6h-1.6zM339.30 800.4h1.6v1.6h-1.6zM342.60 800.4h1.6v1.6h-1.6zM345.90 800.4h1.6v1.6h-1.6zM349.20 800.4h1.6v1.6h-1.6zM352.50 800.4h1.6v1.6h-1.6zM355.80 800.4h1.6v1.6h-1.6zM359.10 800.4h1.6v1.6h-1.6zM362.40 800.4h1.6v1.6h-1.6zM365.70 800.4h1.6v1.6h-1.6zM369.00 800.4h1.6v1.6h-1.6zM372.30 800.4h1.6v1.6h-1.6zM375.60 800.4h1.6v1.6h-1.6zM378.90 800.4h1.6v1.6h-1.6zM382.20 800.4h1.6v1.6h-1.6zM385.50 800.4h1.6v1.6h-1.6zM388.80 800.4h1.6v1.6h-1.6zM392.10 800.4h1.6v1.6h-1.6zM395.40 800.4h1.6v1.6h-1.6zM398.70 800.4h1.6v1.6h-1.6zM402.00 800.4h1.6v1.6h-1.6zM405.30 800.4h1.6v1.6h-1.6zM408.60 800.4h1.6v1.6h-1.6zM411.90 800.4h1.6v1.6h-1.6zM415.20 800.4h1.6v1.6h-1.6zM418.50 800.4h1.6v1.6h-1.6zM421.80 800.4h1.6v1.6h-1.6zM233.70 820.4h1.6v1.6h-1.6zM237.00 820.4h1.6v1.6h-1.6zM240.30 820.4h1.6v1.6h-1.6zM243.60 820.4h1.6v1.6h-1.6zM246.90 820.4h1.6v1.6h-1.6zM250.20 820.4h1.6v1.6h-1.6zM253.50 820.4h1.6v1.6h-1.6zM256.80 820.4h1.6v1.6h-1.6zM260.10 820.4h1.6v1.6h-1.6zM263.40 820.4h1.6v1.6h-1.6zM266.70 820.4h1.6v1.6h-1.6zM270.00 820.4h1.6v1.6h-1.6zM273.30 820.4h1.6v1.6h-1.6zM276.60 820.4h1.6v1.6h-1.6zM279.90 820.4h1.6v1.6h-1.6zM283.20 820.4h1.6v1.6h-1.6zM286.50 820.4h1.6v1.6h-1.6zM289.80 820.4h1.6v1.6h-1.6zM293.10 820.4h1.6v1.6h-1.6zM296.40 820.4h1.6v1.6h-1.6zM299.70 820.4h1.6v1.6h-1.6zM303.00 820.4h1.6v1.6h-1.6zM306.30 820.4h1.6v1.6h-1.6zM309.60 820.4h1.6v1.6h-1.6zM312.90 820.4h1.6v1.6h-1.6zM316.20 820.4h1.6v1.6h-1.6zM319.50 820.4h1.6v1.6h-1.6zM322.80 820.4h1.6v1.6h-1.6zM326.10 820.4h1.6v1.6h-1.6zM329.40 820.4h1.6v1.6h-1.6zM332.70 820.4h1.6v1.6h-1.6zM336.00 820.4h1.6v1.6h-1.6zM339.30 820.4h1.6v1.6h-1.6zM342.60 820.4h1.6v1.6h-1.6zM345.90 820.4h1.6v1.6h-1.6zM349.20 820.4h1.6v1.6h-1.6zM352.50 820.4h1.6v1.6h-1.6zM355.80 820.4h1.6v1.6h-1.6zM359.10 820.4h1.6v1.6h-1.6zM362.40 820.4h1.6v1.6h-1.6zM365.70 820.4h1.6v1.6h-1.6zM369.00 820.4h1.6v1.6h-1.6zM372.30 820.4h1.6v1.6h-1.6zM375.60 820.4h1.6v1.6h-1.6zM378.90 820.4h1.6v1.6h-1.6zM290.00 839.4h1.6v1.6h-1.6zM293.30 839.4h1.6v1.6h-1.6zM296.60 839.4h1.6v1.6h-1.6zM299.90 839.4h1.6v1.6h-1.6zM303.20 839.4h1.6v1.6h-1.6zM306.50 839.4h1.6v1.6h-1.6zM309.80 839.4h1.6v1.6h-1.6zM313.10 839.4h1.6v1.6h-1.6zM316.40 839.4h1.6v1.6h-1.6zM319.70 839.4h1.6v1.6h-1.6zM323.00 839.4h1.6v1.6h-1.6zM326.30 839.4h1.6v1.6h-1.6zM329.60 839.4h1.6v1.6h-1.6zM332.90 839.4h1.6v1.6h-1.6zM336.20 839.4h1.6v1.6h-1.6zM339.50 839.4h1.6v1.6h-1.6zM342.80 839.4h1.6v1.6h-1.6zM346.10 839.4h1.6v1.6h-1.6zM349.40 839.4h1.6v1.6h-1.6zM352.70 839.4h1.6v1.6h-1.6zM356.00 839.4h1.6v1.6h-1.6zM359.30 839.4h1.6v1.6h-1.6zM362.60 839.4h1.6v1.6h-1.6zM365.90 839.4h1.6v1.6h-1.6zM369.20 839.4h1.6v1.6h-1.6zM372.50 839.4h1.6v1.6h-1.6zM375.80 839.4h1.6v1.6h-1.6zM379.10 839.4h1.6v1.6h-1.6zM382.40 839.4h1.6v1.6h-1.6zM305.70 859.4h1.6v1.6h-1.6zM309.00 859.4h1.6v1.6h-1.6zM312.30 859.4h1.6v1.6h-1.6zM315.60 859.4h1.6v1.6h-1.6zM318.90 859.4h1.6v1.6h-1.6zM322.20 859.4h1.6v1.6h-1.6zM325.50 859.4h1.6v1.6h-1.6zM328.80 859.4h1.6v1.6h-1.6zM332.10 859.4h1.6v1.6h-1.6zM335.40 859.4h1.6v1.6h-1.6zM338.70 859.4h1.6v1.6h-1.6zM342.00 859.4h1.6v1.6h-1.6z"/></svg>
<svg style="left:0;top:0" width="1000" height="1000" viewBox="0 0 1000 1000"><path fill="#f7f7f9" d="M357.9 235h2.1l-0.35 8h-1.4zM356.4 237h5.6v1.5h-5.6zM57.6 445.8h1.8l-0.3 8.2h-1.2zM55.8 447.6h5.2v1.5h-5.2z"/></svg>
<div class="bot1"></div><div class="bot2"></div><div style="position:absolute;left:0;top:0;width:1px;height:998px;background:#1b2d57"></div><div style="position:absolute;left:1px;top:0;width:2px;height:998px;background:#162a50"></div>
</body></html>
